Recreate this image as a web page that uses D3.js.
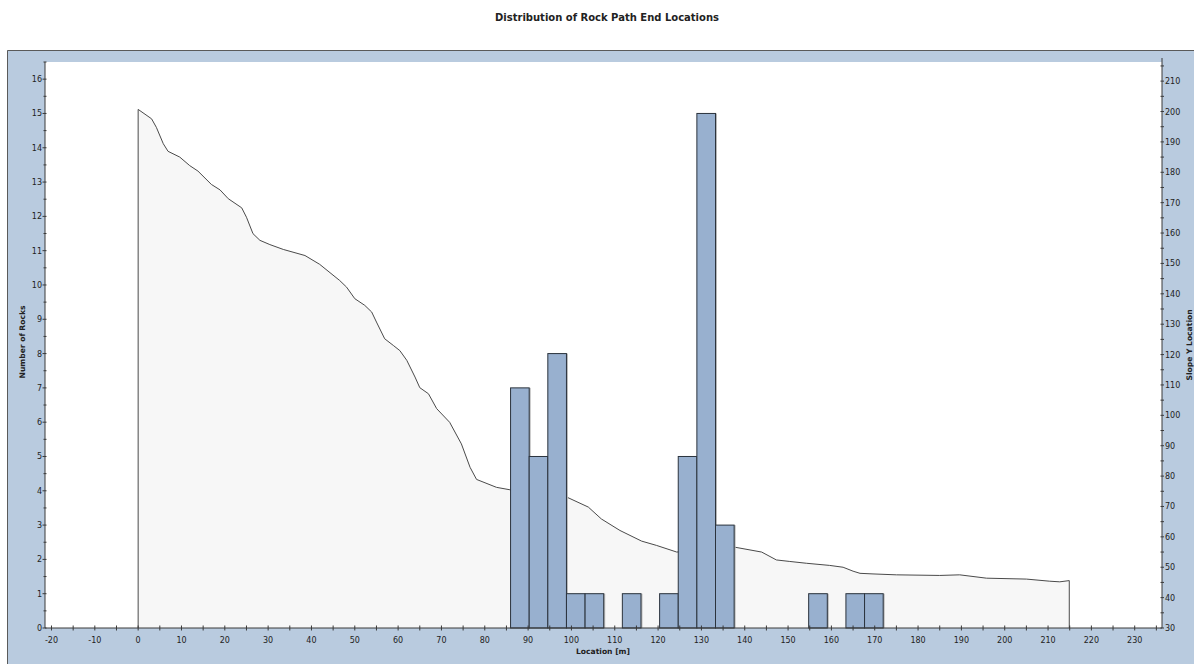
<!DOCTYPE html>
<html>
<head>
<meta charset="utf-8">
<script src="https://cdn.jsdelivr.net/npm/d3@7"></script>
<style>
  html, body { margin: 0; padding: 0; background: #fff; }
  svg { display: block; }
  text { font-family: "DejaVu Sans", Verdana, sans-serif; fill: #222; }
</style>
</head>
<body>
<svg id="chart" width="1194" height="664"></svg>
<script>
// Histogram of rock end locations: 20 equal bins spanning the end-location range
const binRange = [85.95, 171.95];
const rockCounts = [7, 5, 8, 1, 1, 0, 1, 0, 1, 5, 15, 3, 0, 0, 0, 0, 1, 0, 1, 1];

// Slope profile (horizontal location, slope Y location)
const slopeX = [0, 3.1, 4.2, 5.8, 6.9, 9.6, 11.9, 13.8, 16.9, 18.9, 20.8, 23.9, 25.0, 26.5, 28.1,
  30.4, 33.5, 38.5, 41.9, 46.5, 48.1, 50.0, 52.3, 53.9, 55.0, 56.9, 58.9, 60.4, 62.0, 63.9,
  65.0, 67.0, 68.9, 71.9, 74.6, 76.6, 78.1, 82.7, 85.8, 98.9, 103.9, 106.9, 111.2, 116.2,
  119.6, 124.3, 137.7, 143.9, 147.3, 150.4, 154.3, 159.6, 162.7, 165.0, 166.6, 169.6, 175.0,
  185.0, 189.6, 195.8, 205.0, 210.4, 212.7, 214.9];
const slopeY = [200.7, 197.6, 194.8, 189.4, 186.9, 185.0, 182.2, 180.4, 176.0, 174.2, 171.3, 168.3,
  165.2, 159.8, 157.6, 156.2, 154.6, 152.6, 149.7, 144.4, 142.2, 138.4, 136.2, 134.0, 130.7,
  125.2, 123.0, 121.3, 118.1, 112.6, 109.1, 107.1, 102.2, 97.7, 90.6, 82.9, 78.9, 76.3, 75.5,
  73.1, 69.8, 65.9, 62.1, 58.6, 57.2, 55.0, 56.6, 55.0, 52.4, 51.9, 51.3, 50.6, 50.0, 48.7,
  48.0, 47.8, 47.5, 47.3, 47.5, 46.4, 46.1, 45.4, 45.2, 45.6];

// Axis ticks
const xTickLabels = d3.range(-20, 231, 10);
const xTickMarks = d3.range(-20, 236, 5);
const leftTickLabels = d3.range(0, 17, 1);
const leftTickMarks = d3.range(0, 16.51, 0.5);
const rightTickLabels = d3.range(30, 211, 10);
const rightTickMarks = d3.range(30, 216, 5);

const titleText = "Distribution of Rock Path End Locations";
const xTitle = "Location [m]";
const yLeftTitle = "Number of Rocks";
const yRightTitle = "Slope Y Location";

const svg = d3.select("#chart");
const W = 1194, H = 664;
const plot = { left: 45, right: 1162, top: 62, bottom: 628 };

const x = d3.scaleLinear().domain([-21.5, 236.3]).range([plot.left, plot.right]);
const yCount = d3.scaleLinear().domain([0, 16.5]).range([plot.bottom, plot.top]);
const ySlope = d3.scaleLinear().domain([30, 216.3]).range([plot.bottom, plot.top]);

// Outer panel
svg.append("rect").attr("x", 7).attr("y", 50).attr("width", W - 7).attr("height", H - 50)
  .attr("fill", "#b9cbdf");
svg.append("path").attr("d", `M7.5,${H} V50.5 H${W}`).attr("fill", "none")
  .attr("stroke", "#5a5a5a").attr("stroke-width", 1);

// Plot area
svg.append("rect").attr("x", plot.left).attr("y", plot.top)
  .attr("width", plot.right - plot.left).attr("height", plot.bottom - plot.top).attr("fill", "#fff");

// Title
svg.append("text").attr("x", 607).attr("y", 21).attr("text-anchor", "middle")
  .attr("font-size", 10).attr("font-weight", "bold").text(titleText);

// Slope profile: filled area under the ground line
const profile = slopeX.map((v, i) => [v, slopeY[i]]);
const areaGen = d3.area().x(d => x(d[0])).y0(ySlope(30)).y1(d => ySlope(d[1]));
svg.append("path").datum(profile).attr("d", areaGen).attr("fill", "#f7f7f7");
const first = profile[0], last = profile[profile.length - 1];
const outline = [[first[0], 30], ...profile, [last[0], 30]];
svg.append("path").datum(outline)
  .attr("d", d3.line().x(d => x(d[0])).y(d => ySlope(d[1])))
  .attr("fill", "none").attr("stroke", "#4a4a4a").attr("stroke-width", 1);

// Histogram bars
const binW = (binRange[1] - binRange[0]) / rockCounts.length;
const bins = rockCounts.map((c, i) => ({ x0: binRange[0] + i * binW, x1: binRange[0] + (i + 1) * binW, c }))
  .filter(d => d.c > 0);
const barG = svg.append("g");
barG.selectAll("rect.shadow").data(bins).join("rect").attr("class", "shadow")
  .attr("x", d => x(d.x0) + 1.5).attr("y", d => yCount(d.c))
  .attr("width", d => x(d.x1) - x(d.x0)).attr("height", d => yCount(0) - yCount(d.c))
  .attr("fill", "#b8b8b8");
barG.selectAll("rect.bar").data(bins).join("rect").attr("class", "bar")
  .attr("x", d => x(d.x0)).attr("y", d => yCount(d.c))
  .attr("width", d => x(d.x1) - x(d.x0)).attr("height", d => yCount(0) - yCount(d.c))
  .attr("fill", "#98b0cf").attr("stroke", "#2b333d").attr("stroke-width", 1);

// Axes
const axisColor = "#3a3a3a";
const gx = svg.append("g").attr("transform", `translate(0,${plot.bottom})`);
gx.append("line").attr("x1", plot.left).attr("x2", plot.right).attr("stroke", axisColor);
gx.selectAll("line.t").data(xTickMarks).join("line").attr("class", "t")
  .attr("x1", d => x(d)).attr("x2", d => x(d)).attr("y1", -2.5).attr("y2", 2.5).attr("stroke", axisColor);
gx.selectAll("text").data(xTickLabels).join("text")
  .attr("x", d => x(d)).attr("y", 15).attr("text-anchor", "middle").attr("font-size", 8)
  .attr("fill", "#333").text(d => d);

const gl = svg.append("g").attr("transform", `translate(${plot.left},0)`);
gl.append("line").attr("y1", plot.top).attr("y2", plot.bottom).attr("stroke", axisColor);
gl.selectAll("line.t").data(leftTickMarks).join("line").attr("class", "t")
  .attr("y1", d => yCount(d)).attr("y2", d => yCount(d))
  .attr("x1", d => Number.isInteger(d) ? -2.5 : -1.5).attr("x2", 1.5).attr("stroke", axisColor);
gl.selectAll("text").data(leftTickLabels).join("text")
  .attr("x", -3).attr("y", d => yCount(d) + 3).attr("text-anchor", "end").attr("font-size", 8)
  .attr("fill", "#333").text(d => d);

const gr = svg.append("g").attr("transform", `translate(${plot.right},0)`);
gr.append("line").attr("y1", plot.top - 4).attr("y2", plot.bottom).attr("stroke", axisColor);
gr.selectAll("line.t").data(rightTickMarks).join("line").attr("class", "t")
  .attr("y1", d => ySlope(d)).attr("y2", d => ySlope(d))
  .attr("x1", -1.5).attr("x2", 2).attr("stroke", axisColor);
gr.selectAll("text").data(rightTickLabels).join("text")
  .attr("x", 3).attr("y", d => ySlope(d) + 3).attr("text-anchor", "start").attr("font-size", 8)
  .attr("fill", "#333").text(d => d);

// Axis titles
svg.append("text").attr("x", 603).attr("y", 654).attr("text-anchor", "middle")
  .attr("font-size", 7.6).attr("font-weight", "bold").text(xTitle);
svg.append("text").attr("transform", "translate(25,342) rotate(-90)").attr("text-anchor", "middle")
  .attr("font-size", 7.6).attr("font-weight", "bold").text(yLeftTitle);
svg.append("text").attr("transform", "translate(1192,345) rotate(-90)").attr("text-anchor", "middle")
  .attr("font-size", 7.6).attr("font-weight", "bold").text(yRightTitle);
</script>
</body>
</html>
